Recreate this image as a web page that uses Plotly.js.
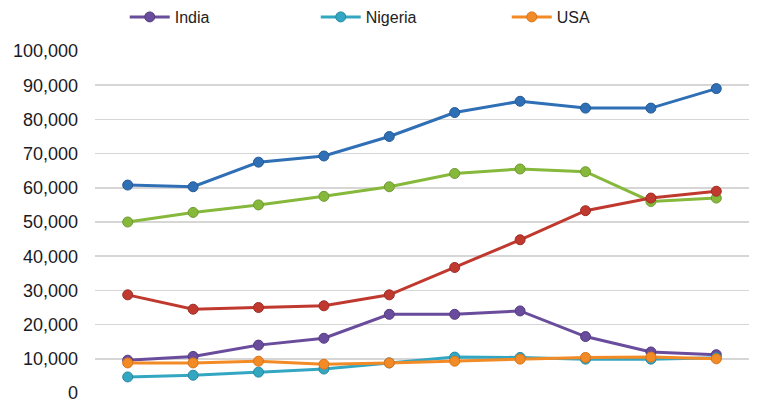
<!DOCTYPE html>
<html>
<head>
<meta charset="utf-8">
<script src="https://cdn.plot.ly/plotly-3.0.1.min.js"></script>
<style>
  html, body { margin: 0; padding: 0; background: #fff; }
  #plot { width: 770px; height: 404px; }
</style>
</head>
<body>
<div id="plot"></div>
<script>
// ten periods, x labels are cut off in the picture
var periods = ['1', '2', '3', '4', '5', '6', '7', '8', '9', '10'];

// top three series (their legend row is cropped away)
var blueVals  = [60800, 60300, 67500, 69300, 75000, 82000, 85300, 83300, 83300, 89000];
var greenVals = [50000, 52800, 55000, 57500, 60300, 64200, 65500, 64700, 56000, 57000];
var redVals   = [28700, 24500, 25000, 25500, 28700, 36700, 44800, 53300, 57000, 59000];

var india   = [9600, 10700, 14000, 16000, 23000, 23000, 24000, 16500, 12000, 11200];
var nigeria = [4700, 5200, 6100, 7000, 8800, 10500, 10400, 9900, 9900, 10300];
var usa     = [8800, 8800, 9300, 8400, 8800, 9300, 9900, 10400, 10500, 10000];

var yTicks = [0, 10000, 20000, 30000, 40000, 50000, 60000, 70000, 80000, 90000, 100000];
var yTickText = ['0', '10,000', '20,000', '30,000', '40,000', '50,000', '60,000', '70,000', '80,000', '90,000', '100,000'];

function makeTrace(name, vals, color, edge, inLegend) {
  return {
    x: periods,
    y: vals,
    name: name,
    type: 'scatter',
    mode: 'lines+markers',
    showlegend: inLegend,
    cliponaxis: false,
    line: { color: color, width: 3 },
    marker: { color: color, size: 10, line: { color: edge, width: 1 } }
  };
}

var data = [
  makeTrace('Series 1', blueVals, '#2f6fb6', '#245a96', false),
  makeTrace('Series 2', greenVals, '#86b83c', '#6f9a30', false),
  makeTrace('Series 3', redVals, '#c0392f', '#a02c24', false),
  makeTrace('India', india, '#6a4c9c', '#553c80', true),
  makeTrace('Nigeria', nigeria, '#33a7c2', '#2689a0', true),
  makeTrace('USA', usa, '#f28b26', '#d8751a', true)
];

var layout = {
  width: 770,
  height: 404,
  paper_bgcolor: '#ffffff',
  plot_bgcolor: '#ffffff',
  margin: { l: 95, r: 21, t: 51, b: 11 },
  font: { family: 'Liberation Sans, Arial, sans-serif', color: '#222222' },
  showlegend: true,
  legend: {
    orientation: 'h',
    xref: 'container',
    yref: 'container',
    x: 0.162,
    y: 1,
    xanchor: 'left',
    yanchor: 'top',
    entrywidth: 136,
    entrywidthmode: 'pixels',
    font: { size: 16, color: '#222222' },
    itemwidth: 40
  },
  xaxis: {
    type: 'category',
    range: [-0.5, 9.5],
    showticklabels: false,
    showgrid: false,
    zeroline: false,
    showline: false,
    ticks: ''
  },
  yaxis: {
    range: [0, 100000],
    tickvals: yTicks,
    ticktext: yTickText,
    tickfont: { size: 18, color: '#1a1a24' },
    ticklabeloverflow: 'allow',
    showgrid: true,
    gridcolor: '#d6d6d6',
    gridwidth: 1.5,
    zeroline: false,
    showline: false,
    ticks: '',
    ticklabelstandoff: 16
  }
};

Plotly.newPlot('plot', data, layout, { displayModeBar: false, staticPlot: true });
</script>
</body>
</html>
